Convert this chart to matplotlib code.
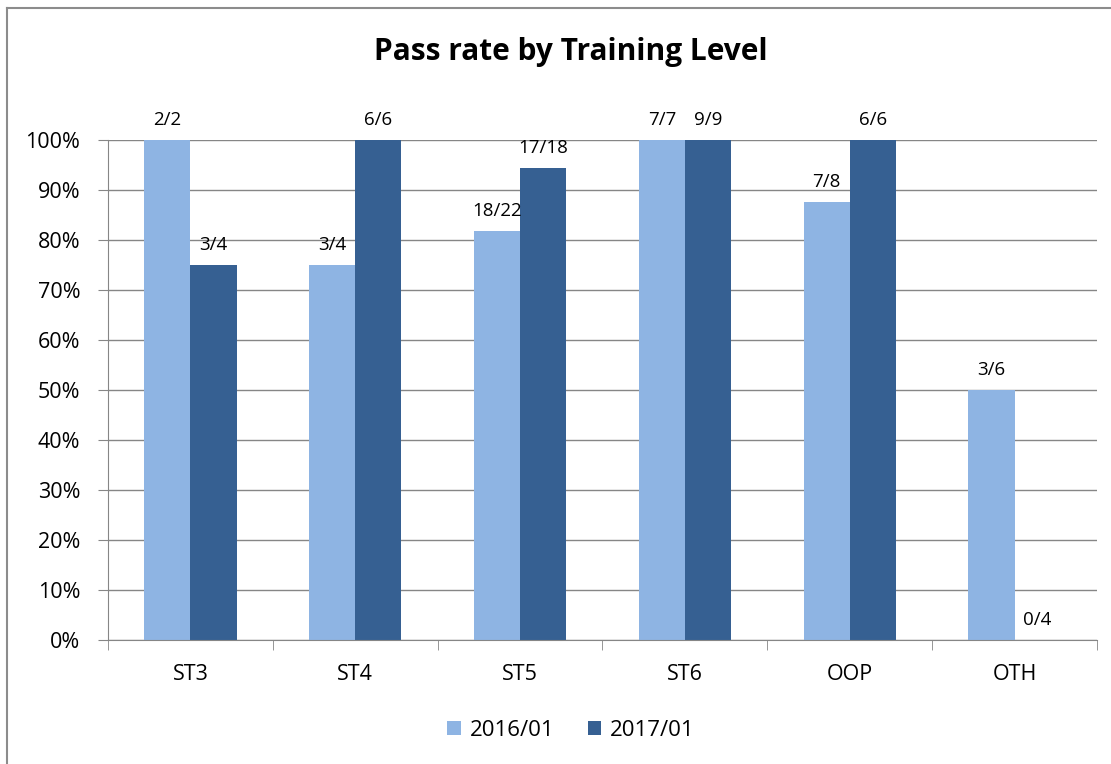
import matplotlib.pyplot as plt
from matplotlib.lines import Line2D
from matplotlib.ticker import MultipleLocator, PercentFormatter

plt.rcParams["font.family"] = ["Open Sans", "DejaVu Sans"]

categories = ["ST3", "ST4", "ST5", "ST6", "OOP", "OTH"]
series = ["2016/01", "2017/01"]
passed_2016 = [2, 3, 18, 7, 7, 3]
total_2016 = [2, 4, 22, 7, 8, 6]
passed_2017 = [3, 6, 17, 9, 6, 0]
total_2017 = [4, 6, 18, 9, 6, 4]

rate_2016 = [100 * p / t for p, t in zip(passed_2016, total_2016)]
rate_2017 = [100 * p / t for p, t in zip(passed_2017, total_2017)]
labels_2016 = [f"{p}/{t}" for p, t in zip(passed_2016, total_2016)]
labels_2017 = [f"{p}/{t}" for p, t in zip(passed_2017, total_2017)]

colors = ["#8EB4E3", "#366092"]
grid_col = "#868686"

fig = plt.figure(figsize=(11.11, 7.64), dpi=100)
ax = fig.add_axes([0.0972, 0.1623, 0.8902, 0.6545])

x = list(range(len(categories)))
w = 0.28
b1 = ax.bar([i - w / 2 for i in x], rate_2016, width=w, color=colors[0], label=series[0], zorder=3)
b2 = ax.bar([i + w / 2 for i in x], rate_2017, width=w, color=colors[1], label=series[1], zorder=3)

for bars, labs in [(b1, labels_2016), (b2, labels_2017)]:
    for rect, lab in zip(bars, labs):
        ax.annotate(lab, (rect.get_x() + rect.get_width() / 2, rect.get_height()),
                    xytext=(0, 8), textcoords="offset points", ha="center", va="bottom",
                    fontsize=13.5)

ax.set_xlim(-0.5, len(categories) - 0.5)
ax.set_ylim(0, 100)
ax.yaxis.set_major_locator(MultipleLocator(10))
ax.yaxis.set_major_formatter(PercentFormatter(decimals=0))
ax.grid(axis="y", color=grid_col, linewidth=1, zorder=0)

ax.set_xticks(x)
ax.set_xticklabels(categories)
ax.set_xticks([i - 0.5 for i in range(len(categories) + 1)], minor=True)
ax.tick_params(axis="x", which="major", length=0, pad=17, labelsize=15.5)
ax.tick_params(axis="x", which="minor", length=7, color=grid_col, direction="out")
ax.tick_params(axis="y", length=7, color=grid_col, labelsize=15.5, pad=13)

for s in ["top", "right"]:
    ax.spines[s].set_visible(False)
for s in ["left", "bottom"]:
    ax.spines[s].set_color(grid_col)
    ax.spines[s].set_zorder(4)

fig.text(571 / 1111, 1 - 52 / 764, "Pass rate by Training Level", ha="center", va="center",
         fontsize=21.5, fontweight="bold")

fig.legend(loc="center", bbox_to_anchor=(571 / 1111, 1 - 730 / 764), ncol=2, frameon=False,
           fontsize=16, handlelength=0.6, handleheight=0.6, handletextpad=0.4, columnspacing=1.5)

# chart border
fig.add_artist(Line2D([7 / 1111, 1], [1 - 8 / 764, 1 - 8 / 764], color="#8C8C8C", linewidth=1.5,
                      transform=fig.transFigure))
fig.add_artist(Line2D([7 / 1111, 7 / 1111], [0, 1 - 8 / 764], color="#8C8C8C", linewidth=1.5,
                      transform=fig.transFigure))

fig.savefig("out.png", dpi=100)
